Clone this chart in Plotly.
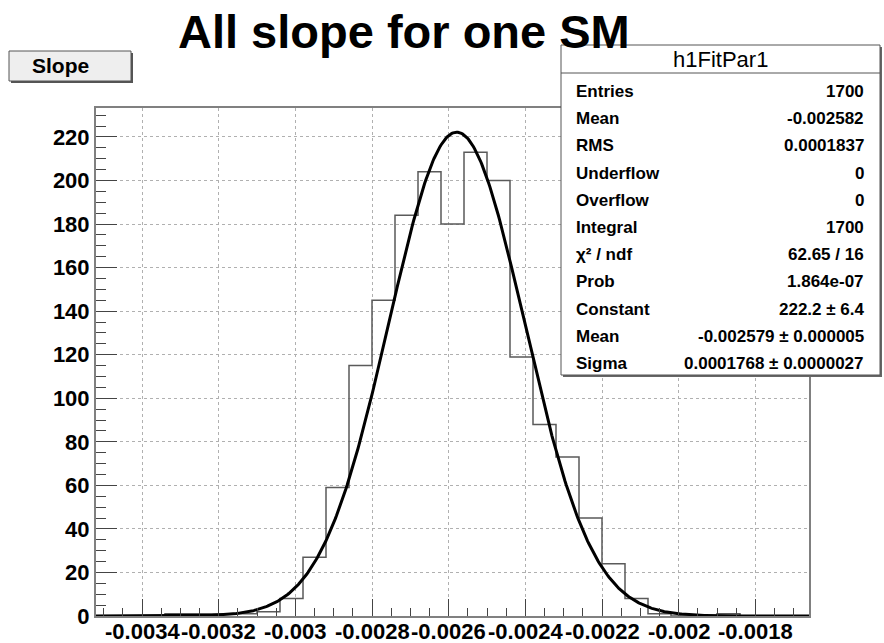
import numpy as np
import plotly.graph_objects as go

# ---------------- data ----------------
BIN_LOW = -0.00352          # lower edge of first bin
BIN_WIDTH = 0.00006         # bin width
COUNTS = [0, 0, 0, 1, 1, 1, 1, 2, 8, 27, 59, 115, 145, 184, 204, 180,
          213, 200, 119, 88, 73, 45, 24, 8, 1, 0, 0, 1, 0, 0, 0]

FIT_CONSTANT = 222.2
FIT_MEAN = -0.002579
FIT_SIGMA = 0.0001768

X_TICK_VALUES = [-0.0034, -0.0032, -0.0030, -0.0028, -0.0026, -0.0024, -0.0022, -0.0020, -0.0018]
X_TICK_LABELS = ["-0.0034", "-0.0032", "-0.003", "-0.0028", "-0.0026", "-0.0024", "-0.0022", "-0.002", "-0.0018"]
Y_TICK_VALUES = [0, 20, 40, 60, 80, 100, 120, 140, 160, 180, 200, 220]

STAT_TITLE = "h1FitPar1"
STAT_LABELS = ["Entries", "Mean", "RMS", "Underflow", "Overflow", "Integral",
               "χ² / ndf", "Prob", "Constant", "Mean", "Sigma"]
STAT_VALUES = ["1700", "-0.002582", "0.0001837", "0", "0", "1700",
               "62.65 / 16", "1.864e-07", "222.2 ± 6.4", "-0.002579 ± 0.000005",
               "0.0001768 ± 0.0000027"]

TITLE = "All slope for one SM"
HIST_TITLE = "Slope"

# ---------------- derived ----------------
n_bins = len(COUNTS)
edges = BIN_LOW + BIN_WIDTH * np.arange(n_bins + 1)
x_hi = edges[-1]
step_x = list(edges)
step_y = list(COUNTS) + [COUNTS[-1]]

fit_x = np.linspace(BIN_LOW, x_hi, 600)
fit_y = FIT_CONSTANT * np.exp(-0.5 * ((fit_x - FIT_MEAN) / FIT_SIGMA) ** 2)
y_max = FIT_CONSTANT * 1.05

W, H = 884, 643
L, R, T, B = 96, 75, 108, 27
PW, PH = W - L - R, H - T - B

def px(xp):
    return (xp - L) / PW

def py(yp):
    return (H - B - yp) / PH

FONT = "Liberation Sans"

fig = go.Figure()
fig.add_trace(go.Scatter(x=step_x, y=step_y, mode="lines", line_shape="hv",
                         line=dict(color="#5a5a5a", width=1.5), hoverinfo="skip"))
fig.add_trace(go.Scatter(x=fit_x, y=fit_y, mode="lines",
                         line=dict(color="#000000", width=3), hoverinfo="skip"))

axis_common = dict(showline=True, linecolor="#808080", linewidth=2, mirror=True,
                   ticks="inside", tickcolor="#444444", zeroline=False, automargin=False,
                   showgrid=True, gridcolor="#b0b0b0", griddash="dot", gridwidth=1)

fig.update_xaxes(range=[BIN_LOW, x_hi], tickmode="array", tickvals=X_TICK_VALUES,
                 showticklabels=False, ticklen=17,
                 minor=dict(dtick=0.00005, tick0=0, ticks="inside", ticklen=8,
                            tickcolor="#444444", showgrid=False),
                 **axis_common)
fig.update_yaxes(range=[0, y_max], tickmode="array", tickvals=Y_TICK_VALUES,
                 ticklen=21,
                 tickfont=dict(family=FONT, size=22, color="#000", weight="bold"),
                 minor=dict(dtick=5, tick0=0, ticks="inside", ticklen=10,
                            tickcolor="#444444", showgrid=False),
                 **axis_common)

shapes = []
annotations = []

# x tick labels (drawn as text just below the axis, like the reference)
for v, t in zip(X_TICK_VALUES, X_TICK_LABELS):
    annotations.append(dict(text=t, x=v, xref="x", y=py(618), yref="paper",
                            xanchor="center", yanchor="top", showarrow=False, borderpad=0,
                            font=dict(family=FONT, size=22, color="#000", weight="bold")))

# Title
annotations.append(dict(text=TITLE, x=px(404), y=py(31), xref="paper", yref="paper",
                        xanchor="center", yanchor="middle", showarrow=False,
                        font=dict(family=FONT, size=47, color="#000", weight="bold")))

# "Slope" box
shapes.append(dict(type="rect", xref="paper", yref="paper", x0=px(11), x1=px(133),
                   y0=py(83), y1=py(53), fillcolor="#555555", line=dict(width=0), layer="above"))
shapes.append(dict(type="rect", xref="paper", yref="paper", x0=px(9), x1=px(131),
                   y0=py(81), y1=py(51), fillcolor="#eeeeee",
                   line=dict(color="#555555", width=1), layer="above"))
annotations.append(dict(text=HIST_TITLE, x=px(60), y=py(66), xref="paper", yref="paper",
                        xanchor="center", yanchor="middle", showarrow=False,
                        font=dict(family=FONT, size=21, color="#000", weight="bold")))

# Stats box
bx0, bx1, by0, by1 = 561, 880, 45, 375
shapes.append(dict(type="rect", xref="paper", yref="paper", x0=px(bx0 + 2), x1=px(bx1 + 2),
                   y0=py(by1 + 2), y1=py(by0 + 2), fillcolor="#666666",
                   line=dict(width=0), layer="above"))
shapes.append(dict(type="rect", xref="paper", yref="paper", x0=px(bx0), x1=px(bx1),
                   y0=py(by1), y1=py(by0), fillcolor="#ffffff",
                   line=dict(color="#555555", width=1), layer="above"))
shapes.append(dict(type="line", xref="paper", yref="paper", x0=px(bx0), x1=px(bx1),
                   y0=py(73), y1=py(73), line=dict(color="#555555", width=1), layer="above"))
annotations.append(dict(text=STAT_TITLE, x=px((bx0 + bx1) / 2), y=py(60), xref="paper",
                        yref="paper", xanchor="center", yanchor="middle", showarrow=False,
                        font=dict(family=FONT, size=22, color="#000")))
row0, dy = 91.5, 27.2
for i, (lab, val) in enumerate(zip(STAT_LABELS, STAT_VALUES)):
    yy = py(row0 + i * dy)
    annotations.append(dict(text=lab, x=px(574), y=yy, xref="paper", yref="paper",
                            xanchor="left", yanchor="middle", showarrow=False,
                            font=dict(family=FONT, size=17, color="#000", weight="bold")))
    annotations.append(dict(text=val, x=px(866), y=yy, xref="paper", yref="paper",
                            xanchor="right", yanchor="middle", showarrow=False,
                            font=dict(family=FONT, size=17, color="#000", weight="bold")))

fig.update_layout(width=W, height=H, margin=dict(l=L, r=R, t=T, b=B),
                  paper_bgcolor="#ffffff", plot_bgcolor="#ffffff", showlegend=False,
                  shapes=shapes, annotations=annotations)

fig.write_html("out.html")
